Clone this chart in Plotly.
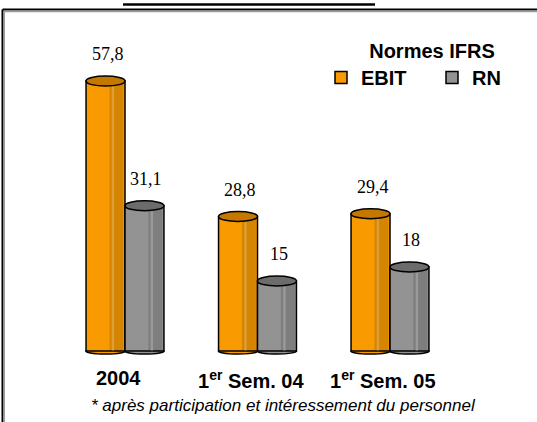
import plotly.graph_objects as go

categories = ["2004", "1<sup>er</sup> Sem. 04", "1<sup>er</sup> Sem. 05"]
ebit = [57.8, 28.8, 29.4]
rn = [31.1, 15, 18]
ebit_labels = ["57,8", "28,8", "29,4"]
rn_labels = ["31,1", "15", "18"]
title_text = "Résultat net consolidé*"
legend_title = "Normes IFRS"
footnote = "* après participation et intéressement du personnel"

W, H = 537, 422
BW = 0.294          # bar width in x units
PX_PER_UNIT_Y = 4.67
CAP = 5.0 / PX_PER_UNIT_Y

xs = list(range(len(categories)))
fig = go.Figure()

series = [
    ("EBIT", ebit, ebit_labels, -BW, "#F99B00", "#C47800"),
    ("RN", rn, rn_labels, 0.0, "#939393", "#6C6C6C"),
]

shapes = []
annotations = []
for name, vals, labs, off, col, capcol in series:
    fig.add_trace(go.Bar(
        x=xs, y=vals, name=f"<b>{name}</b>", width=BW, offset=off,
        marker=dict(color=col, line=dict(color="black", width=1.5)),
    ))
    # right-side shading and a thin highlight for a cylindrical look
    fig.add_trace(go.Bar(
        x=xs, y=vals, width=BW * 0.36, offset=off + BW * 0.6,
        marker=dict(color="rgba(0,0,0,0.14)", line=dict(width=0)),
        showlegend=False, hoverinfo="skip",
    ))
    fig.add_trace(go.Bar(
        x=xs, y=vals, width=BW * 0.06, offset=off + BW * 0.66,
        marker=dict(color="rgba(255,255,255,0.22)", line=dict(width=0)),
        showlegend=False, hoverinfo="skip",
    ))
    for x, v, t in zip(xs, vals, labs):
        x0, x1 = x + off, x + off + BW
        shapes.append(dict(type="circle", xref="x", yref="y", x0=x0, x1=x1,
                           y0=v - CAP, y1=v + CAP, fillcolor=capcol,
                           line=dict(color="black", width=1.5), layer="above"))
        shapes.append(dict(type="circle", xref="x", yref="y", x0=x0, x1=x1,
                           y0=-CAP * 0.6, y1=CAP * 0.6, fillcolor=col,
                           line=dict(color="black", width=1.5), layer="below"))
        annotations.append(dict(x=(x0 + x1) / 2, y=v, xref="x", yref="y",
                                text=t, showarrow=False, yanchor="bottom",
                                yshift=15, xshift=2,
                                font=dict(family="Liberation Serif, Times New Roman",
                                          size=18, color="black")))

for x, c in zip(xs, categories):
    annotations.append(dict(x=x, y=0, xref="x", yref="y", text=f"<b>{c}</b>",
                            showarrow=False, yanchor="top", yshift=-14, xshift=-7,
                            font=dict(family="Liberation Sans, Arial", size=20,
                                      color="black")))

annotations.append(dict(x=283 / W, y=1 - 405 / H, xref="paper", yref="paper",
                        text=f"<i>{footnote}</i>", showarrow=False,
                        xanchor="center", yanchor="middle",
                        font=dict(family="Liberation Sans, Arial", size=17,
                                  color="black")))
annotations.append(dict(x=249 / W, y=1, xref="paper", yref="paper",
                        text=f"<b>{title_text}</b>", showarrow=False,
                        xanchor="center", yanchor="bottom", yshift=-6,
                        font=dict(family="Liberation Sans, Arial", size=22,
                                  color="black")))

shapes += [
    # title underline
    dict(type="line", xref="paper", yref="paper", x0=123 / W, x1=375 / W,
         y0=1 - 4.5 / H, y1=1 - 4.5 / H, line=dict(color="black", width=2.5)),
    # frame lines
    dict(type="line", xref="paper", yref="paper", x0=2.5 / W, x1=1, y0=1 - 9.5 / H,
         y1=1 - 9.5 / H, line=dict(color="black", width=2)),
    dict(type="line", xref="paper", yref="paper", x0=4 / W, x1=1, y0=1 - 11.5 / H,
         y1=1 - 11.5 / H, line=dict(color="#9a9a9a", width=1.5)),
    dict(type="line", xref="paper", yref="paper", x0=2.5 / W, x1=2.5 / W, y0=0,
         y1=1 - 9.5 / H, line=dict(color="black", width=2)),
    dict(type="line", xref="paper", yref="paper", x0=4.2 / W, x1=4.2 / W, y0=0,
         y1=1 - 11.5 / H, line=dict(color="#9a9a9a", width=1.5)),
]

x_px_per_unit = 132.5
x_left = -125 / x_px_per_unit
x_right = x_left + W / x_px_per_unit
y_top = 351 / PX_PER_UNIT_Y
y_bot = -(H - 351) / PX_PER_UNIT_Y

fig.update_layout(
    width=W, height=H, margin=dict(l=0, r=0, t=0, b=0, autoexpand=False),
    paper_bgcolor="white", plot_bgcolor="white",
    barmode="overlay",
    xaxis=dict(range=[x_left, x_right], visible=False, fixedrange=True),
    yaxis=dict(range=[y_bot, y_top], visible=False, fixedrange=True),
    shapes=shapes, annotations=annotations,
    legend=dict(orientation="h", x=321 / W, y=1 - 32 / H, xanchor="left", yanchor="top",
                title=dict(text=f"<b>{legend_title}</b>", side="top center",
                           font=dict(family="Liberation Sans, Arial", size=20, color="black")),
                font=dict(family="Liberation Sans, Arial", size=20, color="black"),
                entrywidth=66, entrywidthmode="pixels", bgcolor="rgba(0,0,0,0)",
                itemclick=False, itemdoubleclick=False),
    showlegend=True,
)

fig.write_html(
    "out.html",
    config={"responsive": False, "displayModeBar": False},
    post_script="document.body.style.margin='0';document.body.style.overflow='hidden';",
)
